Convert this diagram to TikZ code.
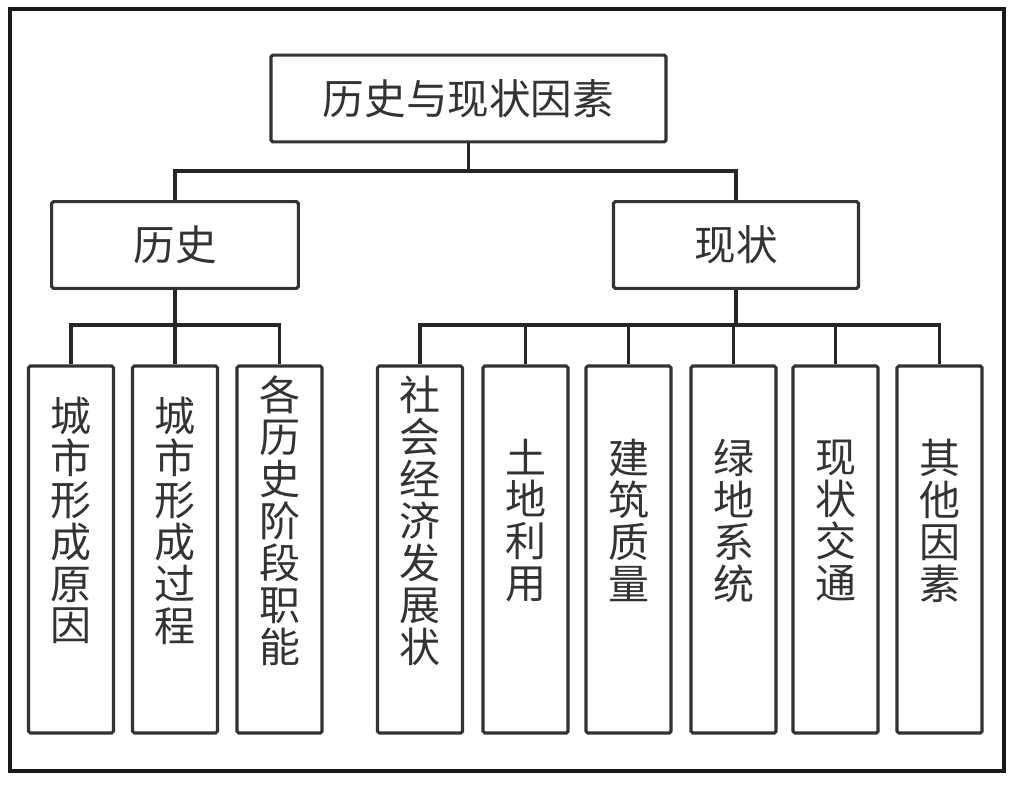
\documentclass[tikz,border=0pt]{standalone}
\usepackage{fontspec}
\setmainfont{Noto Sans CJK SC}
\usetikzlibrary{positioning,calc}

\begin{document}
\begin{tikzpicture}[
  x=0.03cm, y=-0.03cm,
  every node/.style={align=center},
  box/.style={draw=black!80, fill=white, line width=2.7pt, rounded corners=1.5pt,
              inner sep=0pt},
  head/.style={box, minimum height=2.6cm, text=black!80,
               font=\fontsize{35.5pt}{40pt}\selectfont},
  leaf/.style={box, minimum width=2.55cm, minimum height=11.01cm},
  lbl/.style={text=black!80, inner sep=0pt,
              font=\fontsize{35pt}{35.8pt}\selectfont},
  conn/.style={draw=black!85, line width=2.7pt},
]
\useasboundingbox (0,0) rectangle (1011,793);
\draw[line width=2.8pt, draw=black!90] (10,9) rectangle (1004,771);

% ---------- top levels ----------
\node[head, minimum width=11.85cm] (root) at (468.5,98.5) {历史与现状因素};
\node[head, minimum width=7.4cm] (hist) at (175,245) {历史};
\node[head, minimum width=7.35cm] (stat) at (736,245) {现状};

\coordinate (rb) at (468.5,171);
\draw[conn] (root.south) -- (rb);
\draw[conn] (hist.north) |- (rb) -| (stat.north);

% ---------- leaves ----------
\foreach \n/\x/\t in {
  h1/71/{城\\市\\形\\成\\原\\因},
  h2/175/{城\\市\\形\\成\\过\\程},
  h3/279.5/{各\\历\\史\\阶\\段\\职\\能},
  s1/420/{社\\会\\经\\济\\发\\展\\状},
  s2/525.5/{土\\地\\利\\用},
  s3/628.5/{建\\筑\\质\\量},
  s4/733.5/{绿\\地\\系\\统},
  s5/835.5/{现\\状\\交\\通},
  s6/939.5/{其\\他\\因\\素}} {
  \node[leaf] (\n) at (\x,549.5) {};
  \node[lbl] (\n t) at ($(\n.center)+(0,-29)$) {\t};
}

\coordinate (hb) at (175,325);
\draw[conn] (hist.south) -- (h2.north);
\draw[conn] (h1.north) |- (hb) -| (h3.north);

\coordinate (sb) at (736,325);
\draw[conn] (stat.south) -- (sb);
\draw[conn] (s1.north) |- (sb) -| (s6.north);
\foreach \n in {s2,s3,s4,s5} {
  \draw[conn] (\n.north) -- (\n.north |- sb);
}
\end{tikzpicture}
\end{document}
